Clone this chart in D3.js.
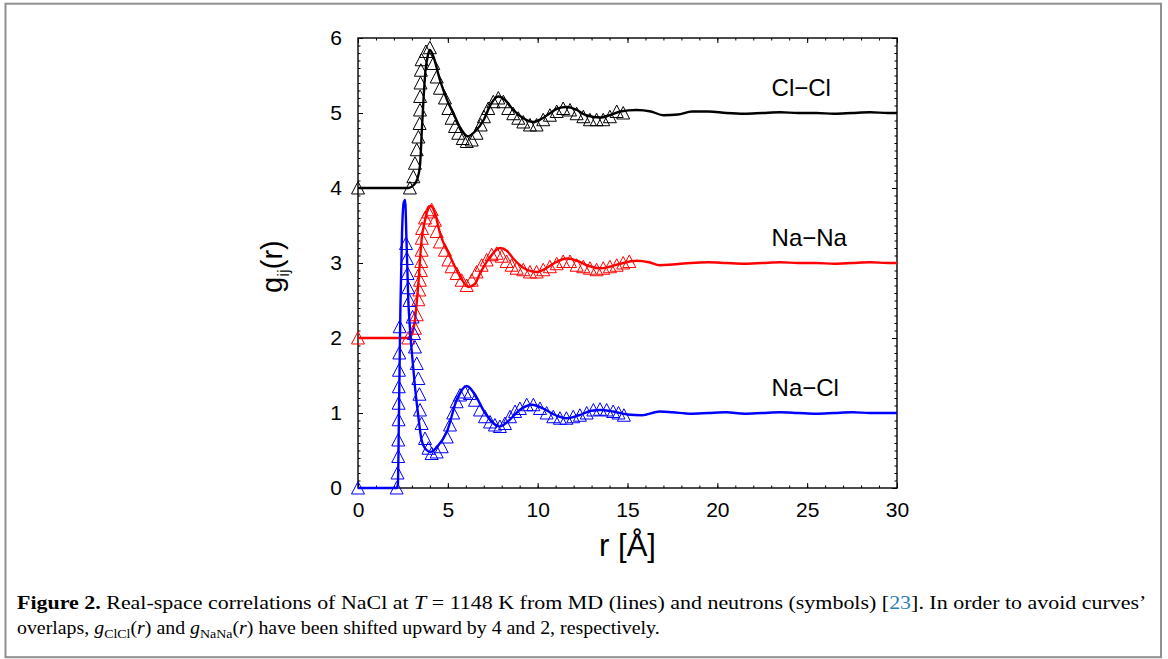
<!DOCTYPE html>
<html>
<head>
<meta charset="utf-8">
<script src="https://cdn.jsdelivr.net/npm/d3@7/dist/d3.min.js"></script>
<style>
  body { margin: 0; background: #fff; }
  svg { display: block; }
  .axis path { display: none; }
  .axis line { stroke: #000; stroke-width: 1; }
  .axis text { font-family: "Liberation Sans", Arial, sans-serif; font-size: 21px; fill: #000; }
  .caption { font-family: "Liberation Serif", "Times New Roman", serif; font-size: 18.5px; fill: #000; }
</style>
</head>
<body>
<svg id="chart" width="1168" height="659"></svg>
<script>
// ---- data (g(r) before the vertical shift) ----
const xMajor = [0, 5, 10, 15, 20, 25, 30];
const yMajor = [0, 1, 2, 3, 4, 5, 6];
const pairNames = ["Cl\u2212Cl", "Na\u2212Na", "Na\u2212Cl"];
const pairShifts = [4, 2, 0];
const pairColors = ["#000000", "#ff0000", "#0000ff"];

// MD (lines)
const mdR_ClCl = [0, 2.8, 3.1, 3.3, 3.45, 3.55, 3.65, 3.75, 3.9, 4.0, 4.2, 4.56, 5.0, 5.3, 5.7, 6.1, 6.5, 7.0, 7.4, 7.8,
  8.2, 8.65, 9.2, 9.76, 10.2, 10.7, 11.1, 11.6, 12.1, 12.7, 13.5, 14.0, 14.6, 15.5, 16.3, 17.0, 17.8, 18.6, 19.5, 20.5,
  21.5, 22.5, 23.5, 24.5, 25.5, 26.5, 27.5, 28.5, 29.5, 30];
const mdG_ClCl = [0, 0, 0.04, 0.12, 0.3, 0.75, 1.2, 1.55, 1.78, 1.84, 1.75, 1.44, 1.15, 1.0, 0.8, 0.69, 0.75, 0.91, 1.12, 1.22,
  1.17, 1.04, 0.93, 0.88, 0.92, 1.0, 1.06, 1.08, 1.05, 0.97, 0.94, 0.97, 1.02, 1.04, 1.02, 0.97, 0.98, 1.02, 1.02, 1.0,
  0.99, 1.0, 1.01, 1.0, 1.0, 0.99, 1.0, 1.01, 1.0, 1.0];

const mdR_NaNa = [0, 2.8, 3.0, 3.17, 3.36, 3.54, 3.73, 3.9, 4.05, 4.3, 4.56, 5.12, 5.68, 6.14, 6.5, 6.79, 7.35, 7.9, 8.3, 8.64,
  9.39, 9.94, 10.4, 10.87, 11.6, 12.2, 12.73, 13.47, 14.0, 14.6, 15.5, 16.2, 16.8, 17.5, 18.5, 19.5, 20.5, 21.5, 22.5, 23.5,
  24.5, 25.5, 26.5, 27.5, 28.5, 29.5, 30];
const mdG_NaNa = [0, 0, 0.05, 0.24, 0.73, 1.31, 1.57, 1.72, 1.76, 1.65, 1.4, 1.09, 0.82, 0.68, 0.72, 0.86, 1.08, 1.2, 1.16, 1.06,
  0.91, 0.88, 0.92, 0.99, 1.06, 1.03, 0.97, 0.93, 0.95, 0.99, 1.03, 1.01, 0.97, 0.98, 1.0, 1.01, 1.0, 0.99, 1.0, 1.01,
  1.0, 1.0, 0.99, 1.0, 1.01, 1.0, 1.0];

const mdR_NaCl = [0, 2.15, 2.22, 2.28, 2.36, 2.45, 2.54, 2.62, 2.7, 2.8, 2.9, 3.0, 3.17, 3.36, 3.54, 3.8, 4.05, 4.4, 4.95, 5.5,
  6.05, 6.5, 7.0, 7.5, 7.9, 8.4, 9.0, 9.7, 10.3, 11.0, 11.6, 12.3, 13.0, 13.5, 14.2, 15.0, 15.8, 16.8, 17.5, 18.5,
  19.5, 20.5, 21.5, 22.5, 23.5, 24.5, 25.5, 26.5, 27.5, 28.5, 29.5, 30];
const mdG_NaCl = [0, 0, 0.05, 1.0, 2.4, 3.4, 3.8, 3.84, 3.3, 2.5, 2.1, 1.8, 1.35, 0.95, 0.64, 0.51, 0.48, 0.55, 0.75, 1.18,
  1.36, 1.25, 1.03, 0.87, 0.82, 0.9, 1.04, 1.11, 1.06, 0.97, 0.93, 0.97, 1.03, 1.04, 1.02, 0.98, 0.97, 1.02, 1.01, 0.99,
  1.0, 1.01, 0.99, 1.0, 1.01, 1.0, 0.99, 1.0, 1.01, 1.0, 1.0, 1.0];

// neutrons (symbols)
const nR_ClCl = [0, 2.89, 3.08, 3.17, 3.27, 3.36, 3.43, 3.45, 3.46, 3.48, 3.5, 3.54, 3.78, 4.0, 4.19, 4.38, 4.56, 4.84, 5.03, 5.21,
  5.4, 5.58, 5.83, 6.05, 6.33, 6.6, 6.83, 7.01, 7.25, 7.53, 7.81, 8.09, 8.36, 8.64, 8.92, 9.2, 9.57, 9.94, 10.31, 10.68,
  11.06, 11.42, 11.8, 12.17, 12.54, 12.91, 13.28, 13.65, 14.02, 14.4, 14.76];
const nG_ClCl = [0, 0, 0.15, 0.33, 0.51, 0.68, 0.86, 1.04, 1.22, 1.4, 1.57, 1.71, 1.82, 1.87, 1.66, 1.48, 1.33, 1.2, 1.06, 0.93,
  0.82, 0.73, 0.66, 0.62, 0.64, 0.73, 0.84, 0.95, 1.06, 1.15, 1.2, 1.15, 1.06, 0.99, 0.93, 0.88, 0.84, 0.84, 0.91, 0.97,
  1.02, 1.06, 1.04, 0.99, 0.95, 0.91, 0.91, 0.91, 0.95, 1.02, 1.0];

const nR_NaNa = [0, 2.8, 3.17, 3.27, 3.36, 3.41, 3.45, 3.5, 3.52, 3.54, 3.55, 3.57, 3.73, 3.92, 4.1, 4.28, 4.38, 4.56, 4.84, 5.03,
  5.21, 5.49, 5.77, 6.05, 6.33, 6.6, 6.88, 7.16, 7.44, 7.72, 8.0, 8.27, 8.55, 8.83, 9.2, 9.57, 9.94, 10.31, 10.68, 11.06,
  11.42, 11.8, 12.17, 12.54, 12.91, 13.28, 13.65, 14.02, 14.4, 14.76, 15.1];
const nG_NaNa = [0, 0, 0.13, 0.31, 0.51, 0.64, 0.77, 0.9, 1.02, 1.17, 1.33, 1.46, 1.6, 1.68, 1.71, 1.57, 1.42, 1.28, 1.17, 1.04,
  0.95, 0.86, 0.77, 0.7, 0.77, 0.88, 0.97, 1.04, 1.11, 1.13, 1.09, 1.02, 0.97, 0.93, 0.91, 0.88, 0.88, 0.91, 0.95, 0.99,
  1.02, 1.02, 0.97, 0.95, 0.93, 0.91, 0.93, 0.95, 0.97, 1.0, 1.02];

const nR_NaCl = [0, 2.15, 2.2, 2.24, 2.24, 2.26, 2.26, 2.27, 2.28, 2.3, 2.32, 2.67, 2.72, 2.76, 2.8, 2.86, 3.04, 3.12, 3.17, 3.27,
  3.36, 3.42, 3.45, 3.54, 3.73, 3.92, 4.1, 4.38, 4.66, 4.94, 5.12, 5.3, 5.49, 5.68, 5.95, 6.23, 6.51, 6.79, 7.07, 7.35,
  7.62, 7.9, 8.18, 8.46, 8.74, 9.01, 9.39, 9.76, 10.13, 10.5, 10.87, 11.24, 11.6, 11.98, 12.35, 12.73, 13.1, 13.47, 13.84, 14.2,
  14.5, 14.8];
const nG_NaCl = [0, 0, 0.2, 0.42, 0.64, 0.91, 1.13, 1.35, 1.57, 1.8, 2.15, 3.26, 3.06, 2.86, 2.67, 2.5, 2.28, 2.06, 1.88, 1.66,
  1.46, 1.25, 1.04, 0.86, 0.66, 0.53, 0.46, 0.48, 0.55, 0.68, 0.84, 1.0, 1.15, 1.24, 1.28, 1.26, 1.17, 1.04, 0.95, 0.88,
  0.84, 0.82, 0.86, 0.95, 1.02, 1.06, 1.11, 1.11, 1.06, 1.0, 0.95, 0.93, 0.93, 0.95, 0.97, 1.0, 1.04, 1.05, 1.04, 1.02,
  1.0, 0.97];

// set the dimensions and margins of the graph
const margin = { top: 38, right: 271, bottom: 171, left: 358 };
const svgSize = { width: 1168, height: 659 };
const graphSize = {
  width: svgSize.width - margin.left - margin.right,
  height: svgSize.height - margin.top - margin.bottom,
};

const x = d3.scaleLinear().domain([0, 30]).range([0, graphSize.width]);
const y = d3.scaleLinear().domain([0, 6]).range([graphSize.height, 0]);

const svg = d3.select("#chart");

// outer figure frame
svg.append("rect")
  .attr("x", 5.5).attr("y", 3.7)
  .attr("width", 1155.5).attr("height", 653.5)
  .attr("fill", "none")
  .attr("stroke", "#8f8f8f")
  .attr("stroke-width", 2);

const g = svg.append("g")
  .attr("transform", "translate(" + margin.left + "," + margin.top + ")");

// axes: major + minor ticks, all pointing inward, mirrored on top/right
function addAxis(axis, cls, transform) {
  g.append("g").attr("class", "axis " + cls).attr("transform", transform).call(axis);
}
addAxis(d3.axisBottom(x).tickValues(xMajor).tickSize(-5).tickPadding(14).tickFormat(d3.format("d")), "x", "translate(0," + graphSize.height + ")");
addAxis(d3.axisBottom(x).ticks(30).tickSize(-2.5).tickFormat(""), "x minor", "translate(0," + graphSize.height + ")");
addAxis(d3.axisTop(x).tickValues(xMajor).tickSize(-5).tickFormat(""), "x top", "translate(0,0)");
addAxis(d3.axisTop(x).ticks(30).tickSize(-2.5).tickFormat(""), "x top minor", "translate(0,0)");
addAxis(d3.axisLeft(y).tickValues(yMajor).tickSize(-5).tickPadding(16).tickFormat(d3.format("d")), "y", "translate(0,0)");
addAxis(d3.axisLeft(y).ticks(60).tickSize(-2.5).tickFormat(""), "y minor", "translate(0,0)");
addAxis(d3.axisRight(y).tickValues(yMajor).tickSize(-5).tickFormat(""), "y right", "translate(" + graphSize.width + ",0)");
addAxis(d3.axisRight(y).ticks(60).tickSize(-2.5).tickFormat(""), "y right minor", "translate(" + graphSize.width + ",0)");

// plot frame
g.append("rect")
  .attr("width", graphSize.width)
  .attr("height", graphSize.height)
  .attr("fill", "none")
  .attr("stroke", "#000")
  .attr("stroke-width", 1.4);

// axis titles
g.append("text")
  .attr("x", graphSize.width / 2)
  .attr("y", graphSize.height + 68)
  .attr("text-anchor", "middle")
  .style("font-family", "'Liberation Sans', Arial, sans-serif")
  .style("font-size", "31px")
  .text("r [\u00C5]");

const yTitle = g.append("text")
  .attr("transform", "translate(-76," + graphSize.height * 0.508 + ") rotate(-90)")
  .attr("text-anchor", "middle")
  .style("font-family", "'Liberation Sans', Arial, sans-serif")
  .style("font-size", "29px");
yTitle.append("tspan").text("g");
yTitle.append("tspan").attr("dy", 7).style("font-size", "17px").text("ij");
yTitle.append("tspan").attr("dy", -7).text("(r)");

// triangle marker like gnuplot's open triangle
const triangle = {
  draw(context, size) {
    const h = Math.sqrt(size);
    context.moveTo(0, -h * 0.52);
    context.lineTo(h * 0.52, h * 0.48);
    context.lineTo(-h * 0.52, h * 0.48);
    context.closePath();
  },
};
const symbol = d3.symbol().type(triangle).size(156);

const series = [
  { md: [mdR_ClCl, mdG_ClCl], n: [nR_ClCl, nG_ClCl] },
  { md: [mdR_NaNa, mdG_NaNa], n: [nR_NaNa, nG_NaNa] },
  { md: [mdR_NaCl, mdG_NaCl], n: [nR_NaCl, nG_NaCl] },
];

const line = d3.line()
  .x(function (d) { return x(d[0]); })
  .y(function (d) { return y(d[1]); })
  .curve(d3.curveMonotoneX);

series.forEach(function (s, i) {
  const shift = pairShifts[i];
  const color = pairColors[i];
  const md = s.md[0].map(function (r, k) { return [r, s.md[1][k] + shift]; });
  const pts = s.n[0].map(function (r, k) { return [r, s.n[1][k] + shift]; });

  g.append("g").attr("class", "neutrons")
    .selectAll("path")
    .data(pts)
    .enter()
    .append("path")
    .attr("d", symbol)
    .attr("transform", function (d) { return "translate(" + x(d[0]) + "," + y(d[1]) + ")"; })
    .attr("fill", "none")
    .attr("stroke", color)
    .attr("stroke-width", 1);

  g.append("path")
    .datum(md)
    .attr("class", "md")
    .attr("d", line)
    .attr("fill", "none")
    .attr("stroke", color)
    .attr("stroke-width", 2.4)
    .attr("stroke-linejoin", "round");

  g.append("text")
    .attr("x", x(23.02))
    .attr("y", y(shift + 1.23))
    .style("font-family", "'Liberation Sans', Arial, sans-serif")
    .style("font-size", "24px")
    .text(pairNames[i]);
});

// caption, two lines, squeezed to the width of the original typesetting
function captionLine(yPos, width, parts) {
  const t = svg.append("text").attr("class", "caption");
  parts.forEach(function (p) {
    const ts = t.append("tspan").text(p.t);
    if (p.b) ts.style("font-weight", "bold");
    if (p.i) ts.style("font-style", "italic");
    if (p.c) ts.style("fill", p.c);
    if (p.sub) ts.attr("dy", 4).style("font-size", "13px");
    if (p.up) ts.attr("dy", -4);
  });
  const w = t.node().getBBox().width;
  t.attr("transform", "translate(17," + yPos + ") scale(" + width / w + ",1)");
}
captionLine(609, 1130, [
  { t: "Figure 2.", b: true },
  { t: " Real-space correlations of NaCl at " },
  { t: "T", i: true },
  { t: " = 1148 K from MD (lines) and neutrons (symbols) [" },
  { t: "23", c: "#2a7fb8" },
  { t: "]. In order to avoid curves\u2019" },
]);
captionLine(634, 643, [
  { t: "overlaps, " },
  { t: "g", i: true },
  { t: "ClCl", sub: true },
  { t: "(", up: true },
  { t: "r", i: true },
  { t: ") and " },
  { t: "g", i: true },
  { t: "NaNa", sub: true },
  { t: "(", up: true },
  { t: "r", i: true },
  { t: ") have been shifted upward by 4 and 2, respectively." },
]);
</script>
</body>
</html>
